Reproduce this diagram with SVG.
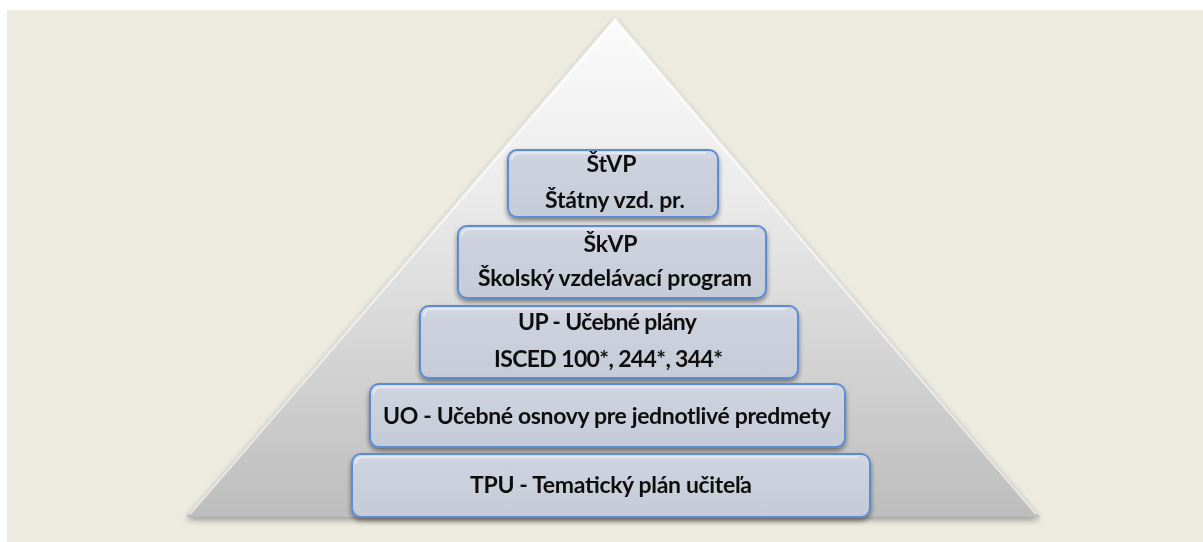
<svg xmlns="http://www.w3.org/2000/svg" width="1203" height="542" viewBox="0 0 1203 542">
<defs>
  <linearGradient id="pyr" x1="0" y1="18" x2="0" y2="517" gradientUnits="userSpaceOnUse">
    <stop offset="0" stop-color="#FBFBFB"/>
    <stop offset="0.35" stop-color="#EBEBEB"/>
    <stop offset="1" stop-color="#BDBDBD"/>
  </linearGradient>
  <linearGradient id="box" x1="0" y1="0" x2="0" y2="1">
    <stop offset="0" stop-color="#D6DAE4"/>
    <stop offset="0.15" stop-color="#CDD2DE"/>
    <stop offset="1" stop-color="#C6CBD8"/>
  </linearGradient>
  <filter id="shadow" x="-10%" y="-10%" width="120%" height="130%">
    <feGaussianBlur in="SourceAlpha" stdDeviation="2.5"/>
    <feOffset dx="0" dy="3" result="b"/>
    <feComponentTransfer><feFuncA type="linear" slope="0.45"/></feComponentTransfer>
    <feMerge><feMergeNode/><feMergeNode in="SourceGraphic"/></feMerge>
  </filter>
  <filter id="pshadow" x="-5%" y="-5%" width="110%" height="115%">
    <feGaussianBlur in="SourceAlpha" stdDeviation="3"/>
    <feOffset dx="0" dy="3"/>
    <feComponentTransfer><feFuncA type="linear" slope="0.35"/></feComponentTransfer>
    <feMerge><feMergeNode/><feMergeNode in="SourceGraphic"/></feMerge>
  </filter>
</defs>
<style>
  .bx { fill: url(#box); stroke: #5B8CD2; stroke-width: 2; }
  .hl { fill: none; stroke: #FFFFFF; stroke-opacity: 0.55; stroke-width: 1.5; }
  .t { font-family: Lato, "Liberation Sans", sans-serif; font-weight: bold; font-size: 23px; fill: #111111; text-anchor: middle; }
</style>
<rect x="0" y="0" width="1203" height="542" fill="#FFFFFF"/>
<rect x="7" y="10" width="1196" height="532" fill="#EDEADF"/>

<g id="pyramid" filter="url(#pshadow)">
  <polygon points="615,18 1040,517 186,517" fill="url(#pyr)"/>
  <polyline points="190,514 615,22 1036,514" fill="none" stroke="#FFFFFF" stroke-opacity="0.6" stroke-width="2"/>
</g>

<g id="connectors"/>

<g id="node-stvp" filter="url(#shadow)">
  <rect class="bx" x="508" y="150" width="210" height="67" rx="9"/>
  <path class="hl" d="M512,160 Q512,153 520,153 L706,153"/>
  <text class="t" x="611.5" y="172">ŠtVP</text>
  <text class="t" x="615" y="208" textLength="140">Štátny vzd. pr.</text>
</g>

<g id="node-skvp" filter="url(#shadow)">
  <rect class="bx" x="458" y="226" width="308" height="72" rx="9"/>
  <path class="hl" d="M462,236 Q462,229 470,229 L754,229"/>
  <text class="t" x="610.5" y="252">ŠkVP</text>
  <text class="t" x="615" y="286" textLength="274">Školský vzdelávací program</text>
</g>

<g id="node-up" filter="url(#shadow)">
  <rect class="bx" x="420" y="306" width="378" height="72" rx="9"/>
  <path class="hl" d="M424,316 Q424,309 432,309 L786,309"/>
  <text class="t" x="607.5" y="330" textLength="179">UP - Učebné plány</text>
  <text class="t" x="608.5" y="367" textLength="229">ISCED 100*, 244*, 344*</text>
</g>

<g id="node-uo" filter="url(#shadow)">
  <rect class="bx" x="370" y="384" width="475" height="63" rx="9"/>
  <path class="hl" d="M374,394 Q374,387 382,387 L833,387"/>
  <text class="t" x="607" y="424" textLength="448">UO - Učebné osnovy pre jednotlivé predmety</text>
</g>

<g id="node-tpu" filter="url(#shadow)">
  <rect class="bx" x="352" y="454" width="518" height="63" rx="9"/>
  <path class="hl" d="M356,464 Q356,457 364,457 L858,457"/>
  <text class="t" x="611" y="493" textLength="282">TPU - Tematický plán učiteľa</text>
</g>
</svg>
